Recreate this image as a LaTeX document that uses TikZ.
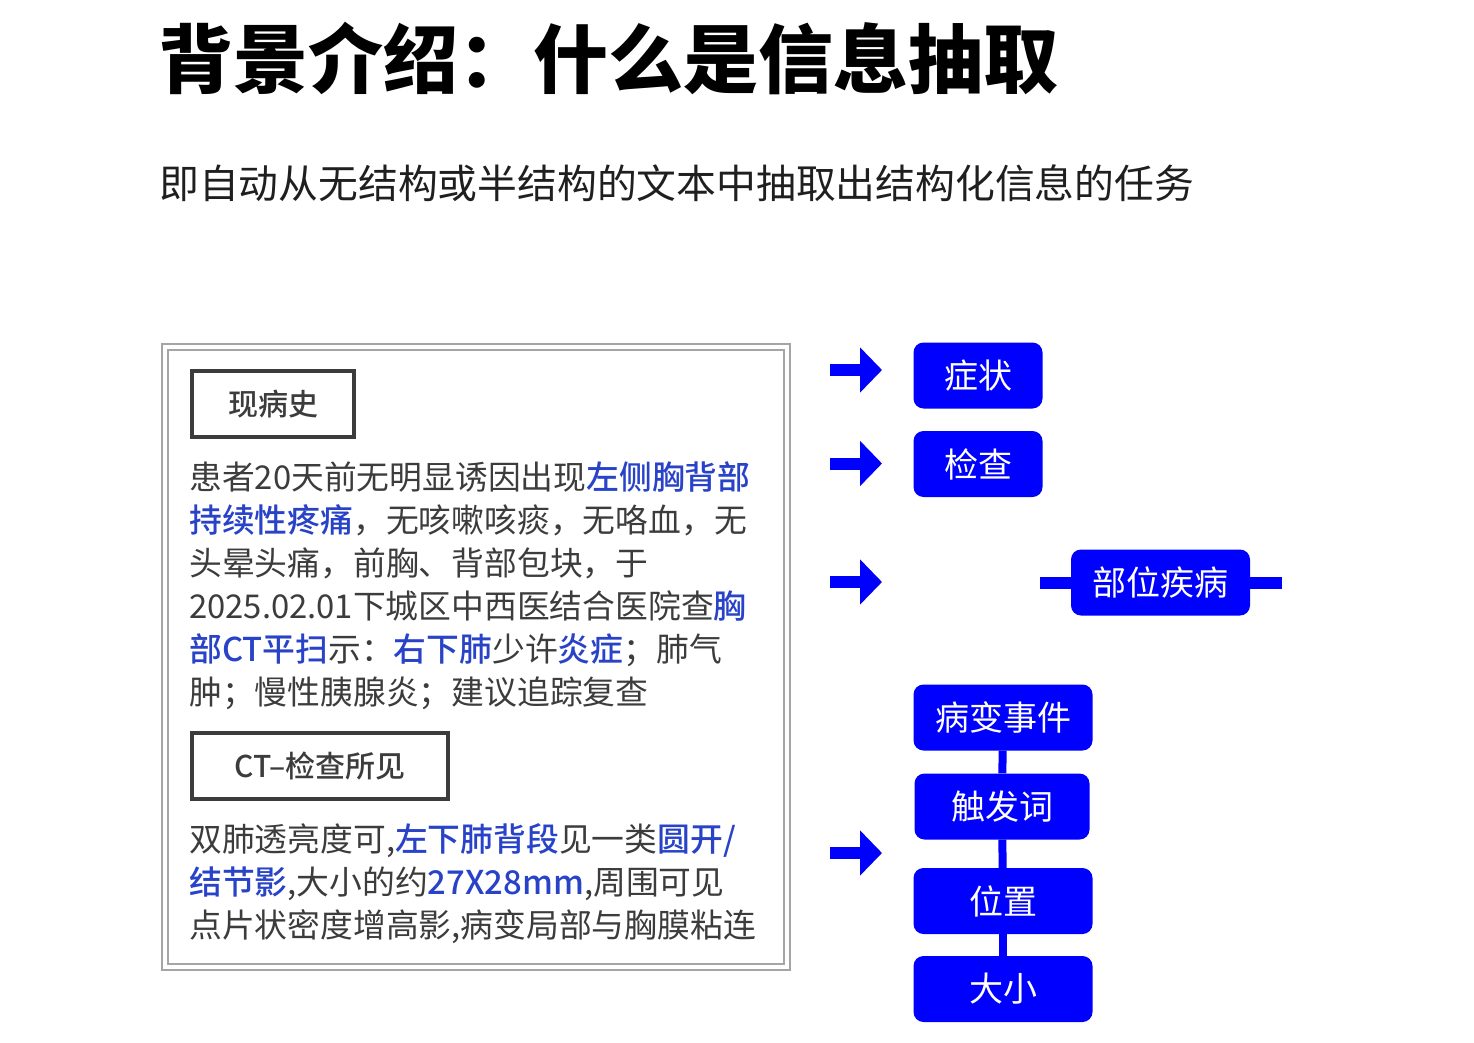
\documentclass[tikz,border=0pt]{standalone}
\usepackage{fontspec}
\usetikzlibrary{arrows.meta}
\setmainfont{Noto Sans CJK SC}
\newfontfamily\cjkheavy{Noto Sans CJK SC Black}
\newfontfamily\cjkmedium{Noto Sans CJK SC Medium}
\definecolor{markBlue}{RGB}{40,66,200}
\definecolor{textGray}{RGB}{60,60,60}
\definecolor{boxBlue}{RGB}{0,0,255}
\definecolor{frameGray}{RGB}{165,165,165}
\newcommand{\hl}[1]{{\color{markBlue}\cjkmedium #1}}

\begin{document}
\begin{tikzpicture}[x=1pt, y=-1pt,
  tagStyle/.style={rectangle, draw=textGray, line width=4pt, minimum height=66pt, inner sep=0pt, text=textGray, font=\cjkmedium\fontsize{30}{36}\selectfont},
  lineStyle/.style={anchor=base west, inner sep=0pt, text=textGray, font=\fontsize{32.8}{40}\selectfont},
  blueStyle/.style={rectangle, rounded corners=10pt, fill=boxBlue, text=white, minimum height=66pt, inner sep=0pt, font=\fontsize{34}{40}\selectfont},
  pointStyle/.style={line width=12pt, boxBlue, -{Triangle[length=22pt, width=44pt]}},
  linkStyle/.style={line width=8pt, boxBlue}]
    \useasboundingbox (0,0) rectangle (1474,1043);

    \node[anchor=base west, inner sep=0pt, font=\cjkheavy\fontsize{75}{80}\selectfont] (title) at (158,88) {背景介绍：什么是信息抽取};
    \node[anchor=base west, inner sep=0pt, text=black!88, font=\fontsize{39.8}{44}\selectfont] (subtitle) at (159,198) {即自动从无结构或半结构的文本中抽取出结构化信息的任务};

    % double frame
    \draw[frameGray, line width=2.5pt] (162,344) rectangle (790,970);
    \draw[frameGray, line width=2.5pt] (168,350) rectangle (784,964);

    \node[tagStyle, minimum width=162pt] (tag_0) at (273,404) {现病史};
    \node[lineStyle] (hist_0) at (189,489) {患者20天前无明显诱因出现\hl{左侧胸背部}};
    \node[lineStyle] (hist_1) at (189,532) {\hl{持续性疼痛}，无咳嗽咳痰，无咯血，无};
    \node[lineStyle] (hist_2) at (189,575) {头晕头痛，前胸、背部包块，于};
    \node[lineStyle] (hist_3) at (189,618) {2025.02.01下城区中西医结合医院查\hl{胸}};
    \node[lineStyle] (hist_4) at (189,661) {\hl{部CT平扫}示：\hl{右下肺}少许\hl{炎症}；肺气};
    \node[lineStyle] (hist_5) at (189,704) {肿；慢性胰腺炎；建议追踪复查};

    \node[tagStyle, minimum width=256pt] (tag_1) at (320,766) {CT–检查所见};
    \node[lineStyle] (ct_0) at (189,851) {双肺透亮度可,\hl{左下肺背段}见一类\hl{圆开/}};
    \node[lineStyle] (ct_1) at (189,894) {\hl{结节影},大小的约\hl{27X28mm},周围可见};
    \node[lineStyle] (ct_2) at (189,937) {点片状密度增高影,病变局部与胸膜粘连};

    % arrows
    \coordinate (pt_0s) at (830,370);   \coordinate (pt_0e) at (882,370);
    \coordinate (pt_1s) at (830,463.5); \coordinate (pt_1e) at (882,463.5);
    \coordinate (pt_2s) at (830,582);   \coordinate (pt_2e) at (882,582);
    \coordinate (pt_3s) at (830,853);   \coordinate (pt_3e) at (882,853);
    \draw[pointStyle] (pt_0s) -- (pt_0e);
    \draw[pointStyle] (pt_1s) -- (pt_1e);
    \draw[pointStyle] (pt_2s) -- (pt_2e);
    \draw[pointStyle] (pt_3s) -- (pt_3e);

    \node[blueStyle, minimum width=129pt] (sym) at (978,375.5) {症状};
    \node[blueStyle, minimum width=129pt] (exam) at (978,464) {检查};

    \node[blueStyle, minimum width=179pt] (dis) at (1160.5,582.5) {部位疾病};
    \coordinate (dis_L) at (1040,582.5);
    \coordinate (dis_R) at (1282,582.5);
    \draw[linkStyle, line width=12pt] (dis_L) -- (dis.west);
    \draw[linkStyle, line width=12pt] (dis.east) -- (dis_R);

    \node[blueStyle, minimum width=179pt] (ev_0) at (1003,717.5) {病变事件};
    \node[blueStyle, minimum width=175pt] (ev_1) at (1002,806.5) {触发词};
    \node[blueStyle, minimum width=179pt] (ev_2) at (1003,901) {位置};
    \node[blueStyle, minimum width=179pt] (ev_3) at (1003,989) {大小};
    \draw[linkStyle] (ev_0) -- (ev_1);
    \draw[linkStyle] (ev_1) -- (ev_2);
    \draw[linkStyle] (ev_2) -- (ev_3);
\end{tikzpicture}
\end{document}
